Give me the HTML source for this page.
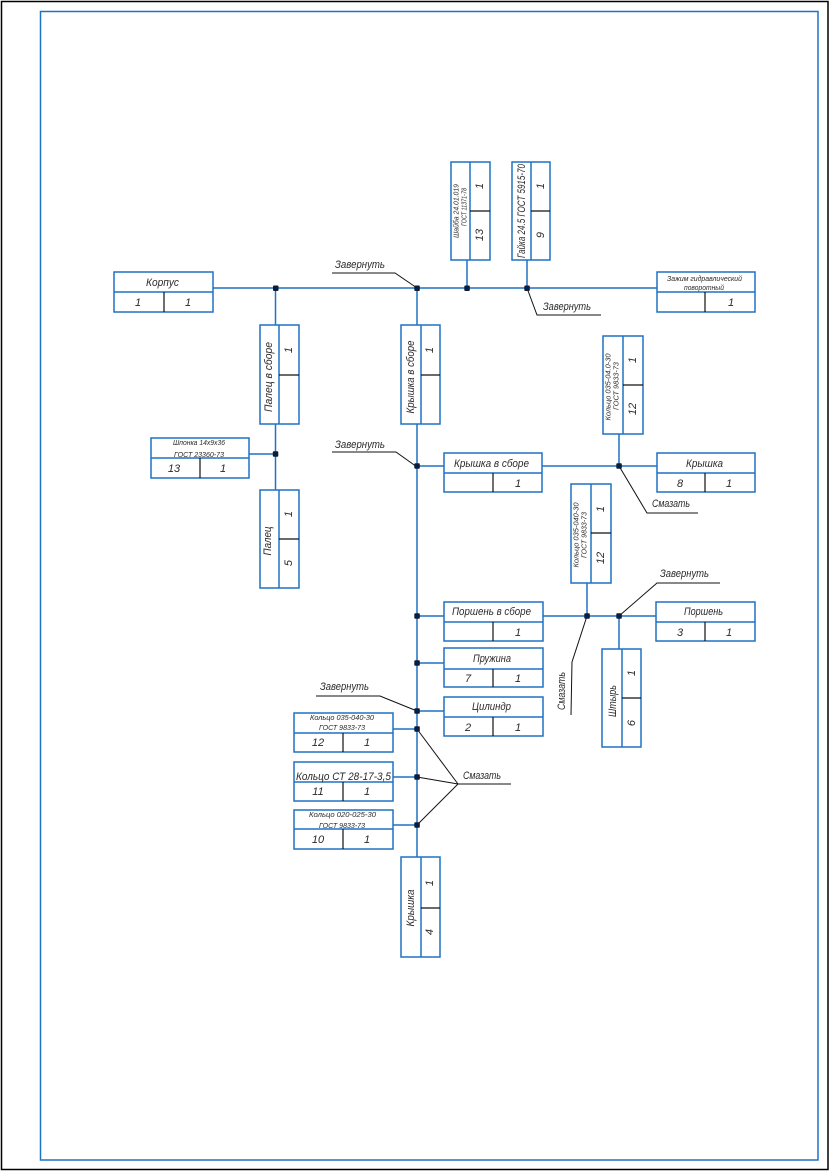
<!DOCTYPE html>
<html><head><meta charset="utf-8"><style>
html,body{margin:0;padding:0;background:#fff;}
svg{display:block;}
text{font-family:"Liberation Sans","DejaVu Sans",sans-serif;font-style:italic;fill:#2a2a2a;}
.b{stroke:#1f72c4;stroke-width:1.5;fill:none;}
.k{stroke:#111;stroke-width:1.2;fill:none;}
.l{stroke:#111;stroke-width:1;fill:none;}
.d{fill:#0b1d3a;}
</style></head><body>
<svg width="830" height="1172" viewBox="0 0 830 1172" xmlns="http://www.w3.org/2000/svg">
<rect x="1.5" y="1.5" width="826.5" height="1168" fill="none" stroke="#000" stroke-width="1.5"/>
<rect x="40.5" y="11.5" width="777.5" height="1148.5" fill="none" stroke="#1f72c4" stroke-width="1.5"/>

<!-- connectors -->
<g class="b">
<line x1="213" y1="288" x2="657" y2="288"/>
<line x1="275.5" y1="288" x2="275.5" y2="325"/>
<line x1="275.5" y1="424" x2="275.5" y2="490"/>
<line x1="249" y1="454" x2="275.5" y2="454"/>
<line x1="417" y1="288" x2="417" y2="325"/>
<line x1="417" y1="424" x2="417" y2="857"/>
<line x1="467" y1="260" x2="467" y2="288"/>
<line x1="527" y1="260" x2="527" y2="288"/>
<line x1="417" y1="466" x2="444" y2="466"/>
<line x1="542" y1="466" x2="657" y2="466"/>
<line x1="619" y1="434" x2="619" y2="466"/>
<line x1="417" y1="616" x2="444" y2="616"/>
<line x1="543" y1="616" x2="656" y2="616"/>
<line x1="587" y1="583" x2="587" y2="616"/>
<line x1="619" y1="616" x2="619" y2="649"/>
<line x1="417" y1="663" x2="444" y2="663"/>
<line x1="417" y1="711" x2="444" y2="711"/>
<line x1="393" y1="729" x2="417" y2="729"/>
<line x1="393" y1="777" x2="417" y2="777"/>
<line x1="393" y1="825" x2="417" y2="825"/>
</g>

<!-- horizontal boxes -->
<g class="b">
<rect x="114" y="272" width="99" height="40"/><line x1="114" y1="292" x2="213" y2="292"/>
<rect x="657" y="272" width="98" height="40"/><line x1="657" y1="292" x2="755" y2="292"/>
<rect x="444" y="453" width="98" height="39"/><line x1="444" y1="473" x2="542" y2="473"/>
<rect x="657" y="453" width="98" height="39"/><line x1="657" y1="473" x2="755" y2="473"/>
<rect x="444" y="602" width="99" height="39"/><line x1="444" y1="622" x2="543" y2="622"/>
<rect x="656" y="602" width="99" height="39"/><line x1="656" y1="622" x2="755" y2="622"/>
<rect x="444" y="648" width="99" height="39"/><line x1="444" y1="669" x2="543" y2="669"/>
<rect x="444" y="697" width="99" height="39"/><line x1="444" y1="717" x2="543" y2="717"/>
<rect x="151" y="438" width="98" height="40"/><line x1="151" y1="458" x2="249" y2="458"/>
<rect x="294" y="713" width="99" height="39"/><line x1="294" y1="733" x2="393" y2="733"/>
<rect x="294" y="762" width="99" height="39"/><line x1="294" y1="782" x2="393" y2="782"/>
<rect x="294" y="810" width="99" height="39"/><line x1="294" y1="829" x2="393" y2="829"/>
</g>
<g class="k">
<line x1="164" y1="292" x2="164" y2="312"/>
<line x1="705" y1="292" x2="705" y2="312"/>
<line x1="493" y1="473" x2="493" y2="492"/>
<line x1="705" y1="473" x2="705" y2="492"/>
<line x1="493" y1="622" x2="493" y2="641"/>
<line x1="705" y1="622" x2="705" y2="641"/>
<line x1="493" y1="669" x2="493" y2="687"/>
<line x1="493" y1="717" x2="493" y2="736"/>
<line x1="200" y1="458" x2="200" y2="478"/>
<line x1="343" y1="733" x2="343" y2="752"/>
<line x1="343" y1="782" x2="343" y2="801"/>
<line x1="343" y1="829" x2="343" y2="849"/>
</g>

<!-- vertical boxes -->
<g class="b">
<rect x="451" y="162" width="39" height="98"/><line x1="470" y1="162" x2="470" y2="260"/>
<rect x="512" y="162" width="38" height="98"/><line x1="531" y1="162" x2="531" y2="260"/>
<rect x="260" y="325" width="39" height="99"/><line x1="279" y1="325" x2="279" y2="424"/>
<rect x="401" y="325" width="39" height="99"/><line x1="421" y1="325" x2="421" y2="424"/>
<rect x="260" y="490" width="39" height="98"/><line x1="279" y1="490" x2="279" y2="588"/>
<rect x="603" y="336" width="40" height="98"/><line x1="623" y1="336" x2="623" y2="434"/>
<rect x="571" y="484" width="40" height="99"/><line x1="591" y1="484" x2="591" y2="583"/>
<rect x="602" y="649" width="39" height="98"/><line x1="622" y1="649" x2="622" y2="747"/>
<rect x="401" y="857" width="39" height="100"/><line x1="421" y1="857" x2="421" y2="957"/>
</g>
<g class="k">
<line x1="470" y1="211" x2="490" y2="211"/>
<line x1="531" y1="211" x2="550" y2="211"/>
<line x1="279" y1="375" x2="299" y2="375"/>
<line x1="421" y1="375" x2="440" y2="375"/>
<line x1="279" y1="539" x2="299" y2="539"/>
<line x1="623" y1="385" x2="643" y2="385"/>
<line x1="591" y1="533" x2="611" y2="533"/>
<line x1="622" y1="698" x2="641" y2="698"/>
<line x1="421" y1="908" x2="440" y2="908"/>
</g>

<!-- leaders -->
<g class="l">
<polyline points="332,273 395,273 417,288"/>
<polyline points="527,288 537,315 601,315"/>
<polyline points="332,452 396,452 417,467"/>
<polyline points="619,466 647,513 698,513"/>
<polyline points="587,616 572,662 571,715"/>
<polyline points="619,616 657,583 720,583"/>
<polyline points="316,696 380,696 417,711"/>
<line x1="458" y1="784" x2="417" y2="729"/>
<line x1="458" y1="784" x2="417" y2="777"/>
<line x1="458" y1="784" x2="417" y2="825"/>
<line x1="458" y1="784" x2="511" y2="784"/>
</g>

<!-- dots -->
<g class="d">
<rect x="273" y="285.5" width="5.5" height="5.5" rx="1"/>
<rect x="414.3" y="285.5" width="5.5" height="5.5" rx="1"/>
<rect x="464.3" y="285.5" width="5.5" height="5.5" rx="1"/>
<rect x="524.3" y="285.5" width="5.5" height="5.5" rx="1"/>
<rect x="272.8" y="451.3" width="5.5" height="5.5" rx="1"/>
<rect x="414.3" y="463.3" width="5.5" height="5.5" rx="1"/>
<rect x="616.3" y="463.3" width="5.5" height="5.5" rx="1"/>
<rect x="414.3" y="613.3" width="5.5" height="5.5" rx="1"/>
<rect x="584.3" y="613.3" width="5.5" height="5.5" rx="1"/>
<rect x="616.3" y="613.3" width="5.5" height="5.5" rx="1"/>
<rect x="414.3" y="660.3" width="5.5" height="5.5" rx="1"/>
<rect x="414.3" y="708.3" width="5.5" height="5.5" rx="1"/>
<rect x="414.3" y="726.3" width="5.5" height="5.5" rx="1"/>
<rect x="414.3" y="774.3" width="5.5" height="5.5" rx="1"/>
<rect x="414.3" y="822.3" width="5.5" height="5.5" rx="1"/>
</g>

<!-- horizontal texts -->
<g font-size="11">
<text x="146" y="286" textLength="33" lengthAdjust="spacingAndGlyphs">Корпус</text>
<text x="138" y="306" text-anchor="middle">1</text>
<text x="188" y="306" text-anchor="middle">1</text>
<text x="335" y="268" textLength="50" lengthAdjust="spacingAndGlyphs">Завернуть</text>
<text x="543" y="310" textLength="48" lengthAdjust="spacingAndGlyphs">Завернуть</text>
<text x="731" y="306" text-anchor="middle">1</text>
<text x="335" y="448" textLength="50" lengthAdjust="spacingAndGlyphs">Завернуть</text>
<text x="454" y="467" textLength="75" lengthAdjust="spacingAndGlyphs">Крышка в сборе</text>
<text x="518" y="487" text-anchor="middle">1</text>
<text x="686" y="467" textLength="37" lengthAdjust="spacingAndGlyphs">Крышка</text>
<text x="680" y="487" text-anchor="middle">8</text>
<text x="729" y="487" text-anchor="middle">1</text>
<text x="652" y="507" textLength="38" lengthAdjust="spacingAndGlyphs">Смазать</text>
<text x="452" y="615" textLength="79" lengthAdjust="spacingAndGlyphs">Поршень в сборе</text>
<text x="518" y="636" text-anchor="middle">1</text>
<text x="684" y="615" textLength="39" lengthAdjust="spacingAndGlyphs">Поршень</text>
<text x="680" y="636" text-anchor="middle">3</text>
<text x="729" y="636" text-anchor="middle">1</text>
<text x="660" y="577" textLength="49" lengthAdjust="spacingAndGlyphs">Завернуть</text>
<text x="473" y="662" textLength="38" lengthAdjust="spacingAndGlyphs">Пружина</text>
<text x="468" y="682" text-anchor="middle">7</text>
<text x="518" y="682" text-anchor="middle">1</text>
<text x="472" y="710" textLength="39" lengthAdjust="spacingAndGlyphs">Цилиндр</text>
<text x="468" y="731" text-anchor="middle">2</text>
<text x="518" y="731" text-anchor="middle">1</text>
<text x="320" y="690" textLength="49" lengthAdjust="spacingAndGlyphs">Завернуть</text>
<text x="463" y="779" textLength="38" lengthAdjust="spacingAndGlyphs">Смазать</text>
<text x="296" y="780" textLength="95" lengthAdjust="spacingAndGlyphs">Кольцо СТ 28-17-3,5</text>
<text x="318" y="746" text-anchor="middle">12</text>
<text x="367" y="746" text-anchor="middle">1</text>
<text x="318" y="795" text-anchor="middle">11</text>
<text x="367" y="795" text-anchor="middle">1</text>
<text x="318" y="843" text-anchor="middle">10</text>
<text x="367" y="843" text-anchor="middle">1</text>
<text x="174" y="472" text-anchor="middle">13</text>
<text x="223" y="472" text-anchor="middle">1</text>
</g>
<g font-size="7">
<text x="667" y="281" textLength="75" lengthAdjust="spacingAndGlyphs">Зажим гидравлический</text>
<text x="684" y="290" textLength="40" lengthAdjust="spacingAndGlyphs">поворотный</text>
<text x="173" y="445" textLength="52" lengthAdjust="spacingAndGlyphs">Шпонка 14х9х36</text>
<text x="174" y="457" textLength="50" lengthAdjust="spacingAndGlyphs">ГОСТ 23360-73</text>
<text x="310" y="720" textLength="64" lengthAdjust="spacingAndGlyphs">Кольцо 035-040-30</text>
<text x="319" y="730" textLength="46" lengthAdjust="spacingAndGlyphs">ГОСТ 9833-73</text>
<text x="309" y="817" textLength="67" lengthAdjust="spacingAndGlyphs">Кольцо 020-025-30</text>
<text x="319" y="828" textLength="46" lengthAdjust="spacingAndGlyphs">ГОСТ 9833-73</text>
</g>

<!-- rotated texts (bottom to top) -->
<g font-size="11" text-anchor="middle" dominant-baseline="central">
<text x="269" y="377" transform="rotate(-90 269 377)" textLength="70" lengthAdjust="spacingAndGlyphs">Палец в сборе</text>
<text x="289" y="350" transform="rotate(-90 289 350)">1</text>
<text x="411" y="377" transform="rotate(-90 411 377)" textLength="73" lengthAdjust="spacingAndGlyphs">Крышка в сборе</text>
<text x="430" y="350" transform="rotate(-90 430 350)">1</text>
<text x="268" y="541" transform="rotate(-90 268 541)" textLength="29" lengthAdjust="spacingAndGlyphs">Палец</text>
<text x="289" y="514" transform="rotate(-90 289 514)">1</text>
<text x="289" y="563" transform="rotate(-90 289 563)">5</text>
<text x="522" y="211" transform="rotate(-90 522 211)" textLength="94" lengthAdjust="spacingAndGlyphs">Гайка 24.5 ГОСТ 5915-70</text>
<text x="541" y="186" transform="rotate(-90 541 186)">1</text>
<text x="541" y="235" transform="rotate(-90 541 235)">9</text>
<text x="480" y="186" transform="rotate(-90 480 186)">1</text>
<text x="480" y="235" transform="rotate(-90 480 235)">13</text>
<text x="633" y="360" transform="rotate(-90 633 360)">1</text>
<text x="633" y="409" transform="rotate(-90 633 409)">12</text>
<text x="601" y="509" transform="rotate(-90 601 509)">1</text>
<text x="601" y="558" transform="rotate(-90 601 558)">12</text>
<text x="613" y="701" transform="rotate(-90 613 701)" textLength="32" lengthAdjust="spacingAndGlyphs">Штырь</text>
<text x="632" y="673" transform="rotate(-90 632 673)">1</text>
<text x="632" y="723" transform="rotate(-90 632 723)">6</text>
<text x="562" y="691" transform="rotate(-90 562 691)" textLength="38" lengthAdjust="spacingAndGlyphs">Смазать</text>
<text x="411" y="908" transform="rotate(-90 411 908)" textLength="37" lengthAdjust="spacingAndGlyphs">Крышка</text>
<text x="430" y="883" transform="rotate(-90 430 883)">1</text>
<text x="430" y="932" transform="rotate(-90 430 932)">4</text>
</g>
<g font-size="7" text-anchor="middle" dominant-baseline="central">
<text x="457" y="211" transform="rotate(-90 457 211)" textLength="54" lengthAdjust="spacingAndGlyphs">Шайба 24.01.019</text>
<text x="465" y="207" transform="rotate(-90 465 207)" textLength="38" lengthAdjust="spacingAndGlyphs">ГОСТ 11371-78</text>
<text x="609" y="387" transform="rotate(-90 609 387)" textLength="67" lengthAdjust="spacingAndGlyphs">Кольцо 035-04.0-30</text>
<text x="617" y="386" transform="rotate(-90 617 386)" textLength="48" lengthAdjust="spacingAndGlyphs">ГОСТ 9833-73</text>
<text x="577" y="535" transform="rotate(-90 577 535)" textLength="65" lengthAdjust="spacingAndGlyphs">Кольцо 035-040-30</text>
<text x="585" y="535" transform="rotate(-90 585 535)" textLength="46" lengthAdjust="spacingAndGlyphs">ГОСТ 9833-73</text>
</g>
</svg>
</body></html>
